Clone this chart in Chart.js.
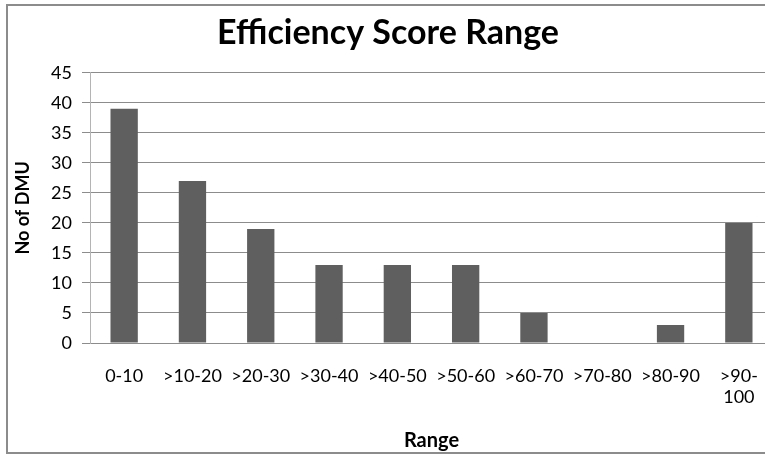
<!DOCTYPE html>
<html>
<head>
<meta charset="utf-8">
<script src="https://cdn.jsdelivr.net/npm/chart.js@4/dist/chart.umd.min.js"></script>
<style>
  html, body { margin: 0; padding: 0; background: #fff; }
  #wrap { position: relative; width: 765px; height: 455px; overflow: hidden; }
  #frame {
    position: absolute; left: 6px; top: 4px; width: 800px; height: 446px;
    border: 2px solid #8c8c8c;
  }
  #holder { position: absolute; left: 0; top: 0; width: 790px; height: 455px; }
</style>
</head>
<body>
<div id="wrap">
  <div id="frame"></div>
  <div id="holder"><canvas id="grafica" width="790" height="455"></canvas></div>
</div>
<script>
// ── DATOS ──────────────────────────────────────────────
const rangos  = ['0-10', '>10-20', '>20-30', '>30-40', '>40-50', '>50-60', '>60-70', '>70-80', '>80-90', ['>90-', '100']];
const numDMU  = [39, 27, 19, 13, 13, 13, 5, 0, 3, 20];
const yTicks  = [0, 5, 10, 15, 20, 25, 30, 35, 40, 45];

const fuente = "Lato, 'Open Sans', sans-serif";

new Chart(document.getElementById('grafica'), {
    type: 'bar',
    data: {
        labels: rangos,
        datasets: [{
            data: numDMU,
            backgroundColor: '#5f5f5f',
            borderWidth: 0,
            categoryPercentage: 1,
            barPercentage: 0.4
        }]
    },
    options: {
        responsive: false,
        animation: false,
        layout: { padding: { left: 3, right: 17, top: 0, bottom: 0 } },
        plugins: {
            legend: { display: false },
            tooltip: { enabled: false },
            title: {
                display: true,
                text: 'Efficiency Score Range',
                color: '#000',
                font: { family: fuente, size: 34, weight: 'bold' },
                padding: { top: 13, bottom: 19 }
            }
        },
        scales: {
            x: {
                grid: { display: false, drawTicks: false },
                border: { display: true, color: '#8c8c8c', width: 1 },
                ticks: { color: '#000', font: { family: fuente, size: 18 }, padding: 22, maxRotation: 0, autoSkip: false },
                title: {
                    display: true, text: 'Range', color: '#000',
                    font: { family: fuente, size: 20, weight: 'bold' },
                    padding: { top: 4, bottom: 2 }
                },
                afterFit: s => { s.height = 112; }
            },
            y: {
                min: 0, max: 45,
                afterBuildTicks: s => { s.ticks = yTicks.map(v => ({ value: v })); },
                grid: { color: '#8c8c8c', tickLength: 8, lineWidth: 1 },
                border: { display: true, color: '#b4b4b4', width: 1 },
                ticks: { color: '#000', font: { family: fuente, size: 18 }, padding: 10 },
                title: {
                    display: true, text: 'No of DMU', color: '#000',
                    font: { family: fuente, size: 18, weight: 'bold' },
                    padding: { top: 9, bottom: 4 }
                },
                afterFit: s => { s.width = 87; }
            }
        }
    }
});
</script>
</body>
</html>
